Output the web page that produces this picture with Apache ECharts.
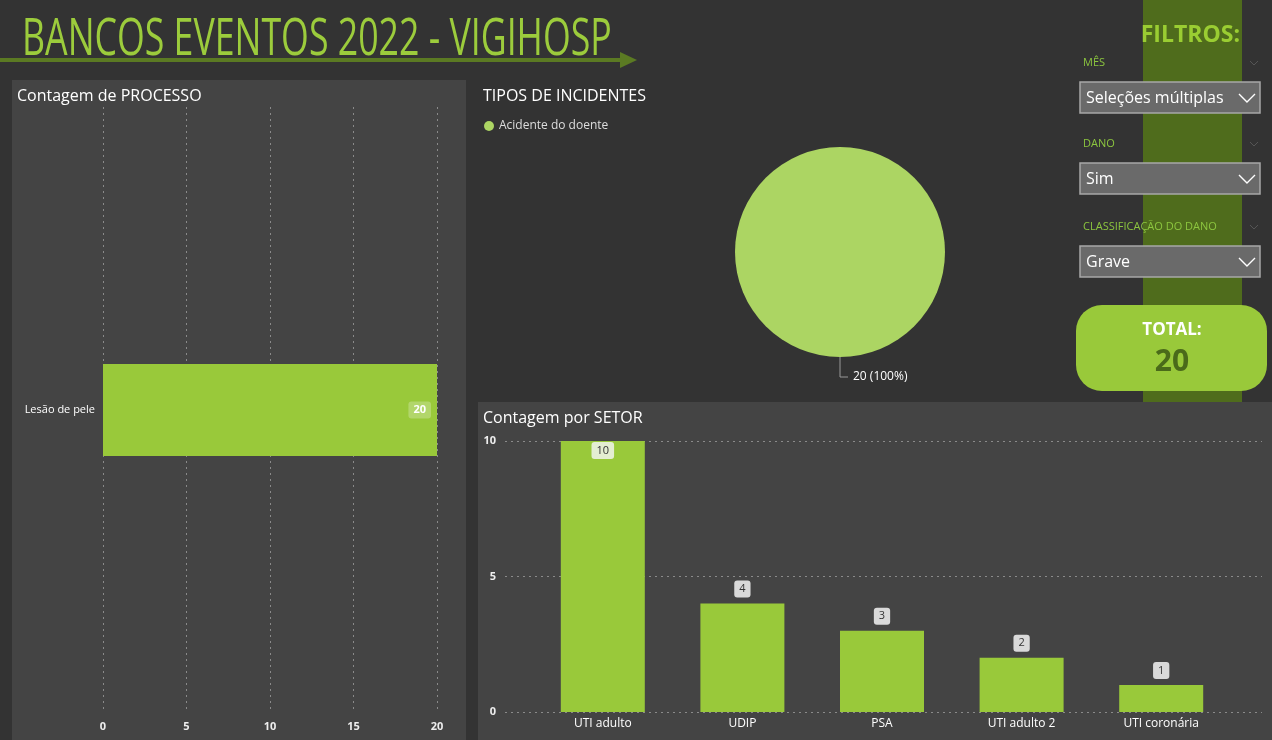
<!DOCTYPE html>
<html>
<head>
<meta charset="utf-8">
<script src="https://cdn.jsdelivr.net/npm/echarts@6/dist/echarts.min.js"></script>
<style>
  html, body { margin: 0; padding: 0; background: #333333; }
  #main { width: 1272px; height: 740px; }
</style>
</head>
<body>
<div id="main"></div>
<script>
// dados
var processCategories = ['Lesão de pele'];
var processValues = [20];

var incidentNames = ['Acidente do doente'];
var incidentValues = [20];

var sectorCategories = ['UTI adulto', 'UDIP', 'PSA', 'UTI adulto 2', 'UTI coronária'];
var sectorValues = [10, 4, 3, 2, 1];

var filterLabels = ['MÊS', 'DANO', 'CLASSIFICAÇÃO DO DANO'];
var filterValues = ['Seleções múltiplas', 'Sim', 'Grave'];

var total = processValues.reduce(function (a, b) { return a + b; }, 0);

// cores
var green = '#99c93a';
var pieGreen = '#acd563';
var darkGreen = '#4f6c1c';
var panel = '#444444';
var font = "'Open Sans', 'Noto Sans', sans-serif";

var chart = echarts.init(document.getElementById('main'));

// elementos fixos (painéis, cabeçalho, filtros)
var graphics = [
  { type: 'rect', z: -10, shape: { x: 12, y: 80, width: 454, height: 660 }, style: { fill: panel } },
  { type: 'rect', z: -10, shape: { x: 478, y: 402, width: 794, height: 338 }, style: { fill: panel } },
  { type: 'rect', z: -10, shape: { x: 1143, y: 0, width: 99, height: 402 }, style: { fill: darkGreen } },
  { type: 'line', shape: { x1: 0, y1: 60, x2: 622, y2: 60 }, style: { stroke: '#5b7a23', lineWidth: 4 } },
  { type: 'polygon', shape: { points: [[620, 52], [637, 60], [620, 68]] }, style: { fill: '#5b7a23' } },
  {
    type: 'text', x: 22, y: 15, scaleX: 0.70,
    style: { text: 'BANCOS EVENTOS 2022 - VIGIHOSP', fill: '#9ccc3c', font: '51px ' + font,
      shadowColor: 'rgba(0,0,0,0.6)', shadowBlur: 2, shadowOffsetX: 1, shadowOffsetY: 1 }
  },
  {
    type: 'text', x: 1240, y: 24,
    style: { text: 'FILTROS:', fill: '#9acd32', font: 'bold 23px ' + font, align: 'right' }
  },
  { type: 'rect', shape: { x: 1076, y: 305, width: 191, height: 86, r: 26 }, style: { fill: green } },
  {
    type: 'text', x: 1172, y: 330,
    style: { text: 'TOTAL:', fill: '#ffffff', font: 'bold 17px ' + font, align: 'center', verticalAlign: 'middle' }
  },
  {
    type: 'text', x: 1172, y: 362,
    style: { text: String(total), fill: '#4a6a1a', font: 'bold 30px ' + font, align: 'center', verticalAlign: 'middle' }
  }
];

var filterTops = [63, 144, 227];
filterLabels.forEach(function (lbl, i) {
  var ly = filterTops[i];
  var by = ly + 19;
  graphics.push(
    { type: 'text', x: 1083, y: ly, style: { text: lbl, fill: '#8cc63f', font: '11px ' + font, verticalAlign: 'middle' } },
    { type: 'polyline', shape: { points: [[1250, ly - 2], [1254, ly + 2], [1258, ly - 2]] }, style: { stroke: '#555', lineWidth: 1, fill: null } },
    { type: 'rect', shape: { x: 1080, y: by, width: 180, height: 31 }, style: { fill: '#6a6a6a', stroke: '#a8a8a8', lineWidth: 1.5 } },
    { type: 'text', x: 1086, y: by + 16, style: { text: filterValues[i], fill: '#ffffff', font: '16px ' + font, verticalAlign: 'middle' } },
    { type: 'polyline', shape: { points: [[1239, by + 12], [1247, by + 20], [1255, by + 12]] }, style: { stroke: '#ffffff', lineWidth: 1.4, fill: null } }
  );
});

var option = {
  backgroundColor: '#333333',
  animation: false,
  textStyle: { fontFamily: font },
  title: [
    { text: 'Contagem de PROCESSO', left: 12, top: 83, textStyle: { color: '#ffffff', fontSize: 16, fontWeight: 'normal' } },
    { text: 'TIPOS DE INCIDENTES', left: 478, top: 83, textStyle: { color: '#ffffff', fontSize: 16, fontWeight: 'normal' } },
    { text: 'Contagem por SETOR', left: 478, top: 405, textStyle: { color: '#ffffff', fontSize: 16, fontWeight: 'normal' } }
  ],
  legend: {
    data: incidentNames,
    left: 479, top: 115,
    icon: 'circle', itemWidth: 10, itemHeight: 10, itemGap: 4,
    textStyle: { color: '#dddddd', fontSize: 12 }
  },
  grid: [
    { left: 103, right: 835, top: 107, bottom: 27 },
    { left: 505, right: 10, top: 441, bottom: 28 },
    { left: 533, right: 41, top: 441, bottom: 28 }
  ],
  xAxis: [
    {
      gridIndex: 0, type: 'value', min: 0, max: 20, interval: 5,
      axisLine: { show: false }, axisTick: { show: false },
      axisLabel: { color: '#eeeeee', fontSize: 11, fontWeight: 'bold', margin: 8 },
      splitLine: { lineStyle: { color: '#8a8a8a', type: [2, 4], width: 1 } }
    },
    { gridIndex: 1, type: 'value', show: false, splitLine: { show: false } },
    {
      gridIndex: 2, type: 'category', data: sectorCategories,
      axisLine: { show: false }, axisTick: { show: false },
      axisLabel: { color: '#ffffff', fontSize: 12, margin: 6 }
    }
  ],
  yAxis: [
    {
      gridIndex: 0, type: 'category', data: processCategories,
      axisLine: { show: false }, axisTick: { show: false },
      axisLabel: { color: '#ffffff', fontSize: 11, margin: 8 }
    },
    {
      gridIndex: 1, type: 'value', min: 0, max: 10, interval: 5,
      axisLine: { show: false }, axisTick: { show: false },
      axisLabel: { color: '#eeeeee', fontSize: 11, fontWeight: 'bold', margin: 9 },
      splitLine: { lineStyle: { color: '#8a8a8a', type: [2, 4], width: 1 } }
    },
    { gridIndex: 2, type: 'value', min: 0, max: 10, show: false, splitLine: { show: false } }
  ],
  series: [
    {
      type: 'bar', xAxisIndex: 0, yAxisIndex: 0,
      data: processValues, barWidth: 92,
      itemStyle: { color: green },
      label: {
        show: true, position: 'insideRight', distance: 6,
        color: '#ffffff', fontSize: 11, fontWeight: 'bold',
        backgroundColor: 'rgba(255,255,255,0.25)', borderRadius: 3, padding: [3, 5]
      }
    },
    {
      type: 'pie', center: [840, 252], radius: 105,
      data: incidentNames.map(function (n, i) { return { name: n, value: incidentValues[i] }; }),
      itemStyle: { color: pieGreen },
      label: { show: true, formatter: '{c} ({d}%)', color: '#ffffff', fontSize: 12 },
      labelLine: { show: true, length: 20, length2: 8, lineStyle: { color: '#999999', width: 1 } }
    },
    {
      type: 'bar', xAxisIndex: 2, yAxisIndex: 2,
      data: sectorValues.map(function (v, i) {
        return i === 0 ? {
          value: v,
          label: { position: 'insideTop', distance: 1, backgroundColor: '#e4eed2' }
        } : v;
      }),
      barWidth: 84,
      itemStyle: { color: green },
      label: {
        show: true, position: 'top', distance: 6,
        color: '#333333', fontSize: 11,
        backgroundColor: '#d9d9d9', borderRadius: 3, padding: [3, 5]
      }
    }
  ],
  graphic: graphics
};

chart.setOption(option);
</script>
</body>
</html>
